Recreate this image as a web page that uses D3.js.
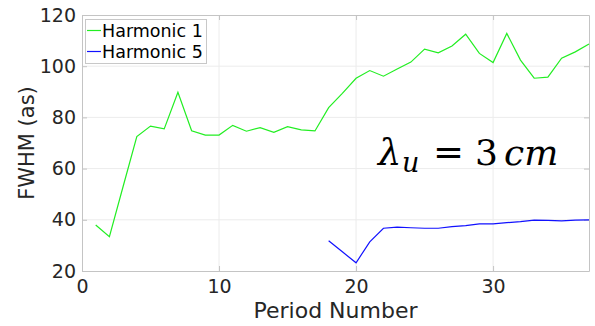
<!DOCTYPE html>
<html>
<head>
<meta charset="utf-8">
<script src="https://cdn.jsdelivr.net/npm/d3@7"></script>
<style>
  html, body { margin: 0; padding: 0; background: #fff; }
  svg { display: block; }
</style>
</head>
<body>
<svg id="chart" width="595" height="326"></svg>
<script>
// Period numbers and FWHM values (attoseconds) per harmonic
const periods1 = d3.range(1, 38);
const harmonic1 = [38, 33.4, 53, 72.5, 76.6, 75.5, 89.8, 74.8, 73.1, 73.1,
  76.9, 74.6, 76, 74.2, 76.4, 75.1, 74.7, 83.8, 89.4, 95.3,
  98.3, 96.1, 98.9, 101.6, 106.7, 105.2, 107.9, 112.5, 105, 101.4,
  112.8, 102.4, 95.3, 95.7, 103.1, 105.6, 108.7];

const periods5 = d3.range(18, 38);
const harmonic5 = [31.8, 27.5, 23.2, 31.4, 36.7, 37.1, 36.9, 36.7, 36.7, 37.3,
  37.7, 38.4, 38.4, 38.9, 39.3, 39.9, 39.8, 39.6, 39.9, 40.0];

const xTicks = [0, 10, 20, 30];
const yTicks = [20, 40, 60, 80, 100, 120];
const seriesNames = ["Harmonic 1", "Harmonic 5"];

const svg = d3.select("#chart");
const plotL = 82, plotR = 589, plotT = 15, plotB = 271;
const frameColor = "#c4c4c4";
const textColor = "#262626";
const font = "DejaVu Sans, sans-serif";

const x = d3.scaleLinear().domain([0, 37]).range([plotL, plotR]);
const y = d3.scaleLinear().domain([20, 120]).range([plotB, plotT]);

// grid
const grid = svg.append("g");
grid.selectAll("line.gx").data(xTicks.slice(1)).join("line")
  .attr("x1", d => x(d)).attr("x2", d => x(d))
  .attr("y1", plotT).attr("y2", plotB)
  .attr("stroke", "#ececec").attr("stroke-width", 1);
grid.selectAll("line.gy").data(yTicks.slice(1, -1)).join("line")
  .attr("x1", plotL).attr("x2", plotR)
  .attr("y1", d => y(d)).attr("y2", d => y(d))
  .attr("stroke", "#ececec").attr("stroke-width", 1);

// axes with inward ticks
const tickLen = 5;
const xAxis = svg.append("g").attr("transform", `translate(0,${plotB})`)
  .call(d3.axisBottom(x).tickValues(xTicks).tickSizeInner(-tickLen).tickSizeOuter(0).tickPadding(9));
const yAxis = svg.append("g").attr("transform", `translate(${plotL},0)`)
  .call(d3.axisLeft(y).tickValues(yTicks).tickSizeInner(-tickLen).tickSizeOuter(0).tickPadding(6));
const xTop = svg.append("g").attr("transform", `translate(0,${plotT})`)
  .call(d3.axisTop(x).tickValues(xTicks).tickSizeInner(-tickLen).tickSizeOuter(0).tickFormat(""));
const yRight = svg.append("g").attr("transform", `translate(${plotR},0)`)
  .call(d3.axisRight(y).tickValues(yTicks).tickSizeInner(-tickLen).tickSizeOuter(0).tickFormat(""));

[xAxis, yAxis, xTop, yRight].forEach(g => {
  g.select(".domain").attr("stroke", frameColor);
  g.selectAll(".tick line").attr("stroke", frameColor);
  g.selectAll(".tick text").attr("fill", textColor)
    .style("font-family", font).style("font-size", "19px");
});
xAxis.selectAll(".tick text").attr("dy", "0.71em");

// axis labels
svg.append("text")
  .attr("x", x(18.5)).attr("y", 318)
  .attr("text-anchor", "middle")
  .attr("fill", textColor)
  .style("font-family", font).style("font-size", "22px")
  .text("Period Number");
svg.append("text")
  .attr("transform", `translate(34,${(plotT + plotB) / 2}) rotate(-90)`)
  .attr("text-anchor", "middle")
  .attr("fill", textColor)
  .style("font-family", font).style("font-size", "21px")
  .text("FWHM (as)");

// series lines
const line = d3.line().x(d => x(d[0])).y(d => y(d[1]));
svg.append("path")
  .datum(periods1.map((p, i) => [p, harmonic1[i]]))
  .attr("d", line).attr("fill", "none")
  .attr("stroke", "#22ee22").attr("stroke-width", 1.2);
svg.append("path")
  .datum(periods5.map((p, i) => [p, harmonic5[i]]))
  .attr("d", line).attr("fill", "none")
  .attr("stroke", "#1111ff").attr("stroke-width", 1.2);

// legend
const legend = svg.append("g");
legend.append("rect")
  .attr("x", 85.5).attr("y", 19.5).attr("width", 121).attr("height", 44)
  .attr("fill", "#fff").attr("stroke", "#c8c8c8");
const colors = ["#22ee22", "#1111ff"];
seriesNames.forEach((name, i) => {
  const cy = 30.5 + i * 21;
  legend.append("line")
    .attr("x1", 87).attr("x2", 101).attr("y1", cy).attr("y2", cy)
    .attr("stroke", colors[i]).attr("stroke-width", 1.2);
  legend.append("text")
    .attr("x", 102).attr("y", cy).attr("dy", "0.36em")
    .attr("fill", "#000")
    .style("font-family", font).style("font-size", "17.5px")
    .text(name);
});

// undulator period annotation, typeset piece by piece
const note = svg.append("g")
  .style("font-family", "DejaVu Serif, serif").attr("fill", "#000");
const base = 165;
note.append("text").attr("x", 378).attr("y", base)
  .style("font-size", "37px").style("font-style", "italic").text("λ");
note.append("text").attr("x", 402).attr("y", base + 7)
  .style("font-size", "27px").style("font-style", "italic").text("u");
note.append("text").attr("x", 433).attr("y", base)
  .style("font-size", "37px").text("=");
note.append("text").attr("x", 475).attr("y", base)
  .style("font-size", "36px").text("3");
note.append("text").attr("x", 504).attr("y", base)
  .style("font-size", "36px").style("font-style", "italic").text("cm");
</script>
</body>
</html>
